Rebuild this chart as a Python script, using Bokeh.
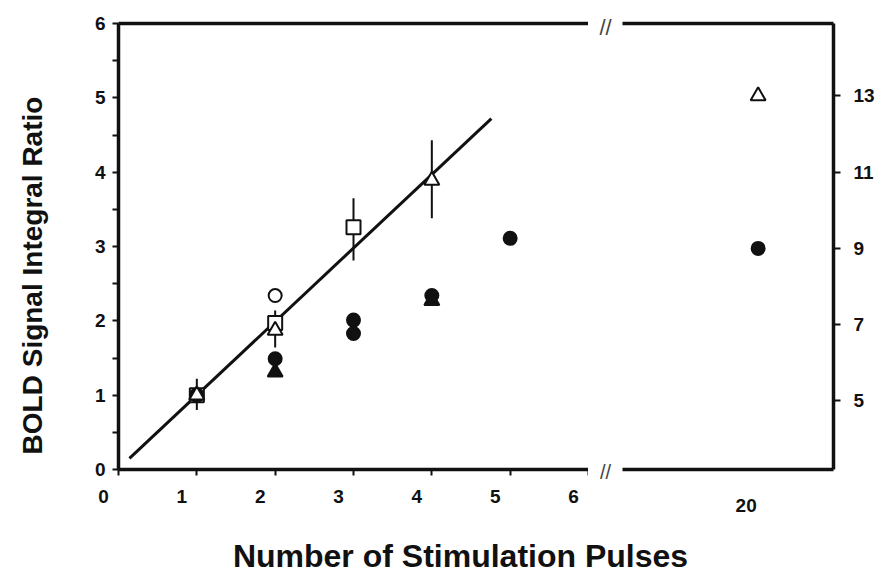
import math

from bokeh.plotting import figure
from bokeh.layouts import row, column
from bokeh.models import (ColumnDataSource, LinearAxis, Range1d, FixedTicker,
                          Label, LabelSet)
from bokeh.core.properties import value
from bokeh.embed import file_html
from bokeh.resources import INLINE

FONT = "Liberation Sans"
INK = "#111111"

# ---- axis ticks -------------------------------------------------------------
x_ticks = [0, 1, 2, 3, 4, 5, 6]
x_tick_labels = ["0", "1", "2", "3", "4", "5", "6"]
y_ticks = [0, 1, 2, 3, 4, 5, 6]
y_minor_ticks = [0.5, 1.5, 2.5, 3.5, 4.5, 5.5]
right_ticks = [5, 7, 9, 11, 13]
long_ticks = [20]
long_tick_labels = ["20"]

# ---- data (BOLD signal integral ratio vs. number of pulses) -----------------
open_circle_x = [1, 2]
open_circle_y = [1.0, 2.34]
open_square_x = [1, 2, 3]
open_square_y = [1.0, 1.97, 3.26]
open_tri_x = [1, 2, 4]
open_tri_y = [1.0, 1.87, 3.89]
filled_circle_x = [1, 2, 3, 3, 4, 5]
filled_circle_y = [1.0, 1.49, 2.01, 1.83, 2.34, 3.11]
filled_tri_x = [1, 2, 4]
filled_tri_y = [1.0, 1.31, 2.27]

err_x = [1, 2, 3, 4]
err_lo = [0.80, 1.64, 2.81, 3.38]
err_hi = [1.22, 2.14, 3.65, 4.43]

fit_x = [0.14, 4.76]
fit_y = [0.15, 4.72]

# 20-pulse train, read on the right-hand scale
long_x = [20]
long_open_tri_y = [13.0]
long_filled_circle_y = [9.0]

# ---- page geometry ------------------------------------------------------------
W, H = 881, 572
ROW_H = 484            # height of the row holding the two panels
STRIP_H = H - ROW_H    # strip under the panels: tick labels + x title
YT_W = 60              # strip holding the y-axis title
LEFT_W = 528
GAP_W = 34             # space between the panels, holds the break marks
RIGHT_W = W - YT_W - LEFT_W - GAP_W
TOP_B, BOT_B = 23, 15
LEFT_B, RIGHT_B = 58, 48

X_LEFT = (0, 6)
X_RIGHT = (15.5, 22.5)
Y_LEFT = (0, 6)
Y_RIGHT = (3.2, 14.9)

AXIS_W = 3.5
TICK_FONT = "19px"


def style_axis(ax):
    ax.axis_line_width = AXIS_W
    ax.axis_line_color = INK
    ax.major_tick_line_width = 2
    ax.major_tick_line_color = INK
    ax.minor_tick_line_width = 2
    ax.minor_tick_line_color = INK
    ax.major_tick_in = 0
    ax.minor_tick_in = 0
    ax.major_label_text_font = FONT
    ax.major_label_text_font_style = "bold"
    ax.major_label_text_font_size = TICK_FONT
    ax.major_label_text_color = INK


def bare_axis():
    ax = LinearAxis(ticker=FixedTicker(ticks=[]))
    style_axis(ax)
    ax.major_tick_out = 0
    ax.minor_tick_out = 0
    ax.major_label_standoff = 0
    return ax


def plain_fig(width, height, xr, yr, **kw):
    f = figure(width=width, height=height, x_range=Range1d(*xr), y_range=Range1d(*yr),
               x_axis_type=None, y_axis_type=None,
               output_backend="svg", toolbar_location=None, **kw)
    f.outline_line_color = None
    f.grid.visible = False
    f.background_fill_color = "white"
    f.border_fill_color = "white"
    return f


# ---- y-axis title strip ---------------------------------------------------------
ytitle = plain_fig(YT_W, ROW_H, (0, YT_W), (0, ROW_H), min_border=0)
ytitle.add_layout(Label(x=32, y=ROW_H - 275, angle=math.pi / 2,
                        text="BOLD Signal Integral Ratio",
                        text_align="center", text_baseline="middle",
                        text_font=FONT, text_font_style="bold",
                        text_font_size="28px", text_color=INK))

# ---- left panel: 0-6 pulses -------------------------------------------------
left = plain_fig(LEFT_W, ROW_H, X_LEFT, Y_LEFT,
                 min_border_left=LEFT_B, min_border_right=0,
                 min_border_top=TOP_B, min_border_bottom=BOT_B)

yax = LinearAxis(ticker=FixedTicker(ticks=y_ticks, minor_ticks=y_minor_ticks))
style_axis(yax)
yax.major_tick_out = 6
yax.minor_tick_out = 6
yax.major_label_standoff = 7
left.add_layout(yax, "left")

xax = LinearAxis(ticker=FixedTicker(ticks=x_ticks))
style_axis(xax)
xax.major_tick_out = 6
xax.minor_tick_out = 0
xax.major_label_standoff = 0
xax.major_label_text_font_size = "0px"
xax.major_label_text_color = None
left.add_layout(xax, "below")
left.add_layout(bare_axis(), "above")

# regression line and error bars
left.line(fit_x, fit_y, line_width=3, line_color=INK)
err_src = ColumnDataSource(dict(x=err_x, lo=err_lo, hi=err_hi))
left.segment(x0="x", y0="lo", x1="x", y1="hi", source=err_src,
             line_width=2, line_color=INK)

MS = dict(line_color=INK, line_width=2)
left.scatter(open_square_x, open_square_y, marker="square", size=14,
             fill_color="white", **MS)
left.scatter(open_circle_x, open_circle_y, marker="circle", size=13,
             fill_color="white", **MS)
left.scatter(filled_circle_x, filled_circle_y, marker="circle", size=13,
             fill_color=INK, **MS)
left.scatter(filled_tri_x, filled_tri_y, marker="triangle", size=15,
             fill_color=INK, **MS)
left.scatter(open_tri_x, open_tri_y, marker="triangle", size=15,
             fill_color="white", **MS)

# ---- gap with the axis-break marks ------------------------------------------------
gap = plain_fig(GAP_W, ROW_H, (0, GAP_W), (0, ROW_H), min_border=0)
for y_px, size in ((ROW_H - 27, "22px"), (ROW_H - 471, "20px")):
    gap.add_layout(Label(x=GAP_W / 2, y=y_px, text="//",
                         text_align="center", text_baseline="middle",
                         text_font=FONT, text_font_size=size,
                         text_color="#444444"))

# ---- right panel: 20 pulses ---------------------------------------------------
right = plain_fig(RIGHT_W, ROW_H, X_RIGHT, Y_RIGHT,
                  min_border_left=0, min_border_right=RIGHT_B,
                  min_border_top=TOP_B, min_border_bottom=BOT_B)

rax = LinearAxis(ticker=FixedTicker(ticks=right_ticks))
style_axis(rax)
rax.major_tick_out = 7
rax.minor_tick_out = 0
rax.major_label_standoff = 13
right.add_layout(rax, "right")
right.add_layout(bare_axis(), "below")
right.add_layout(bare_axis(), "above")

right.scatter(long_x, long_filled_circle_y, marker="circle", size=13,
              fill_color=INK, **MS)
right.scatter(long_x, long_open_tri_y, marker="triangle", size=15,
              fill_color="white", **MS)

# ---- bottom strip: x tick labels and the shared x title ---------------------------
# the strip's x scales line up with the two panels above it
left_x0 = YT_W + LEFT_B
left_ppu = (LEFT_W - LEFT_B) / (X_LEFT[1] - X_LEFT[0])
right_x0 = YT_W + LEFT_W + GAP_W
right_ppu = (RIGHT_W - RIGHT_B) / (X_RIGHT[1] - X_RIGHT[0])

strip = plain_fig(W, STRIP_H,
                  (X_LEFT[0] - left_x0 / left_ppu, X_LEFT[0] + (W - left_x0) / left_ppu),
                  (0, STRIP_H), min_border=0)
strip.extra_x_ranges = {"long": Range1d(X_RIGHT[0] - right_x0 / right_ppu,
                                        X_RIGHT[0] + (W - right_x0) / right_ppu)}

x_lab_src = ColumnDataSource(dict(x=x_ticks, y=[STRIP_H] * len(x_ticks), text=x_tick_labels))
strip.add_layout(LabelSet(x="x", y="y", text="text", source=x_lab_src,
                          x_offset=-15, y_offset=-12,
                          text_align="center", text_baseline="middle",
                          text_font=value(FONT), text_font_style="bold",
                          text_font_size=TICK_FONT, text_color=INK))

long_lab_src = ColumnDataSource(dict(x=long_ticks, y=[STRIP_H] * len(long_ticks),
                                     text=long_tick_labels))
strip.add_layout(LabelSet(x="x", y="y", text="text", source=long_lab_src,
                          x_range_name="long", x_offset=-12, y_offset=-21,
                          text_align="center", text_baseline="middle",
                          text_font=value(FONT), text_font_style="bold",
                          text_font_size=TICK_FONT, text_color=INK))

title_x = X_LEFT[0] + (460 - left_x0) / left_ppu
strip.add_layout(Label(x=title_x, y=17,
                       text="Number of Stimulation Pulses",
                       text_align="center", text_baseline="middle",
                       text_font=FONT, text_font_style="bold",
                       text_font_size="32px", text_color=INK))

# the gap sits in its own column so its canvas is not frame-aligned with the panels
layout = column(row(column(ytitle), left, column(gap), right, spacing=0), strip, spacing=0)
open("out.html", "w").write(file_html(layout, INLINE))
